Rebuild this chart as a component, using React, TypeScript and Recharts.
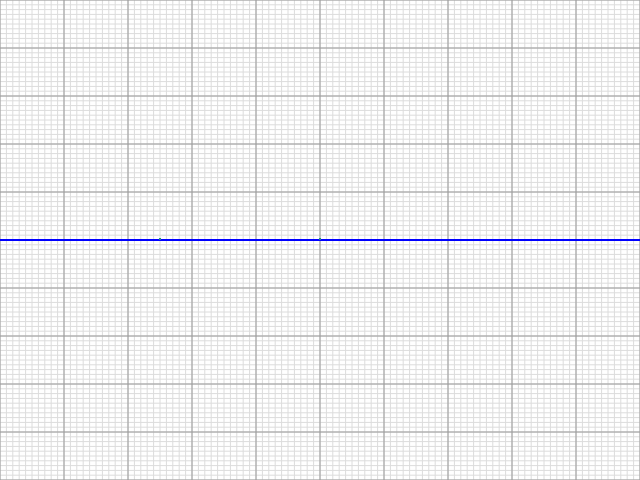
import React from 'react';
import { ComposedChart, Line, XAxis, YAxis, CartesianGrid } from 'recharts';

// minor grid every unit, major every ten units
const minorTicks = Array.from({ length: 101 }, (_, i) => i);
const majorTicks = [0, 10, 20, 30, 40, 50, 60, 70, 80, 90, 100];

const lineX = [0, 25, 50, 100];
const lineY = [50, 50, 50, 50];

// points that carry a tiny marker
const markerX = [25, 50];

const lineData = lineX.map((x, i) => ({ x, y: lineY[i] }));

const TinyMark = (props: any) => {
  const { cx, cy, payload, index } = props;
  if (!payload || !markerX.includes(payload.x)) return <g key={index} />;
  return <rect key={index} x={cx - 1} y={cy - 2} width={2} height={2} fill="#2a8a8a" />;
};

const App: React.FC = () => {
  return (
    <div style={{ position: 'fixed', left: 0, top: 0, width: 640, height: 480, background: '#fff' }}>
      <ComposedChart width={640} height={480} data={lineData} margin={{ top: 0, right: 0, bottom: 0, left: 0 }}>
        <XAxis xAxisId="minor" type="number" dataKey="x" domain={[0, 100]} ticks={minorTicks} interval={0} hide />
        <YAxis yAxisId="minor" type="number" dataKey="y" domain={[0, 100]} ticks={minorTicks} interval={0} minTickGap={0} hide />
        <XAxis xAxisId="major" type="number" dataKey="x" domain={[0, 100]} ticks={majorTicks} interval={0} hide />
        <YAxis yAxisId="major" type="number" dataKey="y" domain={[0, 100]} ticks={majorTicks} interval={0} hide />
        <CartesianGrid xAxisId="minor" yAxisId="minor" stroke="#dcdcdc" strokeWidth={1} />
        <CartesianGrid xAxisId="major" yAxisId="major" stroke="#9a9a9a" strokeWidth={1} />
        <Line
          xAxisId="major"
          yAxisId="major"
          type="linear"
          dataKey="y"
          stroke="#0000ff"
          strokeWidth={2}
          dot={TinyMark}
          activeDot={false}
          isAnimationActive={false}
        />
      </ComposedChart>
    </div>
  );
};

export default App;
